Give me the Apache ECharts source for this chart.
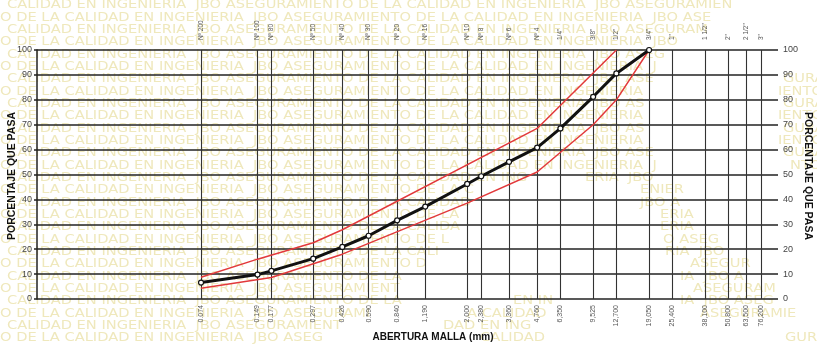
<!DOCTYPE html>
<html>
<head>
<meta charset="utf-8">
<script src="https://cdn.jsdelivr.net/npm/echarts@6/dist/echarts.min.js"></script>
<style>
html,body{margin:0;padding:0;background:#fff;}
#chart{width:817px;height:347px;}
</style>
</head>
<body>
<div id="chart"></div>
<script>
// Sieve openings (mm), their printed labels and sieve designations
const sieveSizes = [0.074, 0.149, 0.177, 0.297, 0.426, 0.590, 0.840, 1.190, 2.000, 2.380, 3.360, 4.760, 6.350, 9.525, 12.700, 19.050, 25.400, 38.100, 50.800, 63.500, 76.200];
const sizeLabels = ['0.074', '0.149', '0.177', '0.297', '0.426', '0.590', '0.840', '1,190', '2,000', '2,380', '3,360', '4,760', '6,350', '9,525', '12,700', '19,050', '25,400', '38,100', '50,800', '63,500', '76,200'];
const sieveNames = ['Nº 200', 'Nº 100', 'Nº 80', 'Nº 50', 'Nº 40', 'Nº 30', 'Nº 20', 'Nº 16', 'Nº 10', 'Nº 8', 'Nº 6', 'Nº 4', '1/4"', '3/8"', '1/2"', '3/4"', '1"', '1 1/2"', '2"', '2 1/2"', '3"'];
const percentTicks = [0, 10, 20, 30, 40, 50, 60, 70, 80, 90, 100];

// Grading of the sample (% passing)
const sampleSizes = [0.074, 0.149, 0.177, 0.297, 0.426, 0.590, 0.840, 1.190, 2.000, 2.380, 3.360, 4.760, 6.350, 9.525, 12.700, 19.050];
const samplePassing = [6.6, 9.8, 11.3, 16.2, 20.9, 25.4, 31.6, 37.1, 46.2, 49.3, 55.1, 60.8, 68.5, 81.2, 90.6, 100];

// Specification band
const upperSizes = [0.074, 0.149, 0.297, 0.426, 4.760, 12.700];
const upperPassing = [8.7, 16, 22.6, 27.8, 68.5, 100];
const lowerSizes = [0.074, 0.177, 0.426, 2.000, 4.760, 9.525, 12.700, 19.050];
const lowerPassing = [4.3, 8.6, 18, 38.5, 51, 70, 80, 100];

// Background lettering: row right limits and loose fragments [row, x, text]
const markPhrase = 'JBO ASEGURAMIENTO DE LA CALIDAD EN INGENIERIA  ';
const markRowEnds = [740, 717, 712, 690, 673, 667, 655, 653, 650, 647, 653, 650, 655, 665, 535, 480, 480, 465, 470, 460, 450, 430, 410, 405, 410, 380, 350, 330];
const markBits = [
  [6, 783, 'GURA'], [7, 778, 'IENTO'], [8, 783, 'GURA'], [9, 778, 'IENTO'], [10, 783, 'GURA'],
  [11, 778, 'IENTO'], [12, 783, 'GURA'], [13, 790, 'NTO'],
  [14, 585, 'ERIA  JBO'], [15, 640, 'ENIER'], [16, 640, 'JBO A'], [17, 660, 'ERIA'], [18, 660, 'ERIA'],
  [19, 663, 'O ASEG'], [20, 665, 'RIA  JBO'], [21, 690, 'ASEGUR'], [22, 680, 'IA  JBO A'],
  [23, 693, 'ASEGURAM'], [24, 513, 'EN IN'], [24, 680, 'IA  JBO ASEG'], [25, 467, 'A CALIDAD'],
  [25, 700, 'ASEGURAMIE'], [26, 443, 'DAD EN ING'], [27, 480, 'CALIDAD'], [27, 785, 'GUR']
];

const MARK_COLOR = '#efe8bc';
const MARK_FONT = '12.5px "DejaVu Sans"';
const MARK_SCALE = 1.17;
const rowY = i => 5 + i * 12.33;

const graphics = [];
const longText = markPhrase.repeat(4);
markRowEnds.forEach((endX, i) => {
  const even = i % 2 === 0;
  const startX = even ? 7 : 0;
  graphics.push({
    type: 'text', x: startX, y: rowY(i), scaleX: MARK_SCALE, z: -10, silent: true,
    style: {
      text: longText.slice(even ? 24 : 16), font: MARK_FONT, fill: MARK_COLOR,
      verticalAlign: 'middle', width: (endX - startX) / MARK_SCALE, overflow: 'truncate', ellipsis: ''
    }
  });
});
markBits.forEach(([row, x, t]) => {
  graphics.push({
    type: 'text', x: x, y: rowY(row), scaleX: MARK_SCALE, z: -10, silent: true,
    style: { text: t, font: MARK_FONT, fill: MARK_COLOR, verticalAlign: 'middle' }
  });
});

// Axis titles
const titleFont = 'bold 10.5px "Liberation Sans", Arial, sans-serif';
graphics.push(
  { type: 'text', x: 12, y: 176, rotation: Math.PI / 2, z: 10, silent: true,
    style: { text: 'PORCENTAJE QUE PASA', font: titleFont, fill: '#111', align: 'center', verticalAlign: 'middle' } },
  { type: 'text', x: 808, y: 176, rotation: -Math.PI / 2, z: 10, silent: true,
    style: { text: 'PORCENTAJE QUE PASA', font: titleFont, fill: '#111', align: 'center', verticalAlign: 'middle' } },
  { type: 'text', x: 433, y: 337, z: 10, silent: true,
    style: { text: 'ABERTURA MALLA (mm)', font: 'bold 10px "Liberation Sans", Arial, sans-serif', fill: '#111', align: 'center', verticalAlign: 'middle' } }
);

const findIdx = v => sieveSizes.findIndex(s => Math.abs(Math.log(s / v)) < 1e-4);
const pairs = (xs, ys) => xs.map((x, i) => [x, ys[i]]);

const chart = echarts.init(document.getElementById('chart'), null, { renderer: 'canvas' });
chart.setOption({
  animation: false,
  backgroundColor: '#fff',
  grid: { left: 37, right: 56, top: 50, bottom: 48, outerBoundsMode: 'none', containLabel: false },
  graphic: { elements: graphics },
  xAxis: [
    {
      type: 'log', logBase: 10, min: 0.0097, max: 76.2, position: 'bottom',
      axisLine: { show: false },
      axisTick: { show: true, customValues: sieveSizes, inside: true, length: 249, lineStyle: { color: '#333', width: 1.1 } },
      axisLabel: {
        show: true, customValues: sieveSizes, rotate: 90, margin: 6,
        fontSize: 7, color: '#555', fontFamily: '"Liberation Sans", Arial, sans-serif',
        formatter: v => { const k = findIdx(v); return k >= 0 ? sizeLabels[k] : ''; }
      },
      splitLine: { show: false }, minorTick: { show: false }, minorSplitLine: { show: false }
    },
    {
      type: 'log', logBase: 10, min: 0.0097, max: 76.2, position: 'top',
      axisLine: { show: false }, axisTick: { show: false },
      axisLabel: {
        show: true, customValues: sieveSizes, rotate: 90, margin: 10,
        fontSize: 6.5, color: '#555', fontFamily: '"Liberation Sans", Arial, sans-serif',
        formatter: v => { const k = findIdx(v); return k >= 0 ? sieveNames[k] : ''; }
      },
      splitLine: { show: false }
    }
  ],
  yAxis: [
    {
      type: 'value', min: 0, max: 100, interval: 10, position: 'left',
      axisLine: { show: true, lineStyle: { color: '#222', width: 1.5 } },
      axisTick: { show: true, length: 3, lineStyle: { color: '#222', width: 1.5 } },
      axisLabel: { margin: 5, fontSize: 9, color: '#444', fontFamily: '"Liberation Sans", Arial, sans-serif',
        formatter: v => percentTicks.includes(v) ? String(v) : '' },
      splitLine: { show: true, lineStyle: { color: '#222', width: 1.6 } }
    },
    {
      type: 'value', min: 0, max: 100, interval: 10, position: 'right',
      axisLine: { show: false },
      axisTick: { show: true, length: 17, lineStyle: { color: '#222', width: 1.5 } },
      axisLabel: { margin: 22, fontSize: 9, color: '#444', fontFamily: '"Liberation Sans", Arial, sans-serif',
        formatter: v => percentTicks.includes(v) ? String(v) : '' },
      splitLine: { show: false }
    }
  ],
  series: [
    {
      name: 'Límite superior', type: 'line', data: pairs(upperSizes, upperPassing),
      symbol: 'none', z: 3, lineStyle: { color: '#e2393b', width: 1.5 }
    },
    {
      name: 'Límite inferior', type: 'line', data: pairs(lowerSizes, lowerPassing),
      symbol: 'none', z: 3, lineStyle: { color: '#e2393b', width: 1.5 }
    },
    {
      name: 'Muestra', type: 'line', data: pairs(sampleSizes, samplePassing),
      symbol: 'circle', symbolSize: 5, z: 4,
      lineStyle: { color: '#111', width: 3 },
      itemStyle: { color: '#fff', borderColor: '#111', borderWidth: 1.2 }
    }
  ]
});
</script>
</body>
</html>
